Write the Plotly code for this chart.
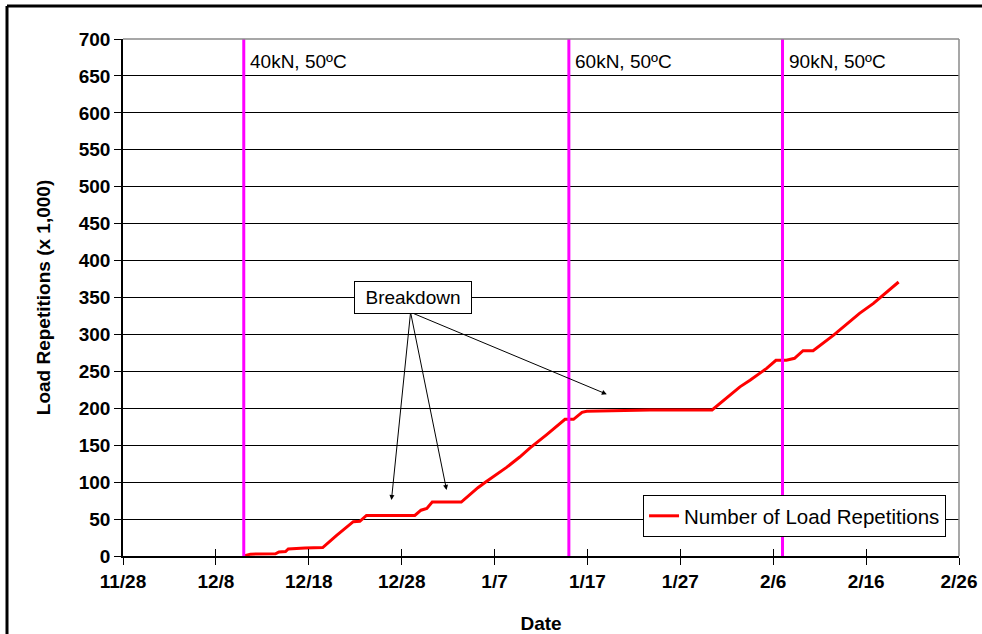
import plotly.graph_objects as go

# ---- data ----
dates = [
    "2003-12-11 00:00", "2003-12-11 17:00", "2003-12-14 10:00", "2003-12-14 19:00",
    "2003-12-15 12:00", "2003-12-15 19:00", "2003-12-17 14:00", "2003-12-19 12:00",
    "2003-12-21 00:00", "2003-12-22 07:00", "2003-12-22 19:00", "2003-12-23 12:00",
    "2003-12-24 05:00", "2003-12-29 10:00", "2003-12-30 02:00", "2003-12-30 17:00",
    "2003-12-31 07:00", "2004-01-03 10:00", "2004-01-05 05:00", "2004-01-06 02:00",
    "2004-01-08 07:00", "2004-01-09 17:00", "2004-01-10 19:00", "2004-01-12 14:00",
    "2004-01-14 14:00", "2004-01-15 12:00", "2004-01-16 10:00", "2004-01-16 22:00",
    "2004-01-18 12:00", "2004-01-23 17:00", "2004-01-30 10:00", "2004-02-02 10:00",
    "2004-02-03 12:00", "2004-02-05 07:00", "2004-02-06 07:00", "2004-02-07 10:00",
    "2004-02-08 07:00", "2004-02-09 05:00", "2004-02-10 07:00", "2004-02-12 12:00",
    "2004-02-15 07:00", "2004-02-16 19:00", "2004-02-19 12:00",
]
repetitions = [
    0, 2.5, 3, 5.5,
    6, 9.5, 11, 11.5,
    28, 41, 46.5, 47,
    55, 55, 62, 64.5,
    73, 73, 92.5, 100.6,
    120, 134, 146, 164,
    185, 185, 194.5, 196,
    196.5, 197.7, 197.7, 229,
    238, 254, 265, 265,
    267.7, 278, 278, 299,
    328.5, 342, 371,
]

load_change_dates = ["2003-12-11", "2004-01-15", "2004-02-07"]
load_change_labels = ["40kN, 50ºC", "60kN, 50ºC", "90kN, 50ºC"]

breakdown_targets_x = ["2003-12-26 21:36", "2004-01-01 20:00", "2004-01-19 02:00"]
breakdown_targets_y = [75.8, 89.4, 219]
breakdown_label_x = "2003-12-28 23:00"
breakdown_label_y = 330

x_range = ["2003-11-28", "2004-02-26"]
y_range = [0, 700]

FONT = "Liberation Sans, Arial, sans-serif"
FS = 19

fig = go.Figure()
fig.add_trace(go.Scatter(
    x=dates, y=repetitions, mode="lines",
    name="Number of Load Repetitions",
    line=dict(color="#FF0000", width=3),
))
# dummy trace on overlay x-axis for inside ticks
fig.add_trace(go.Scatter(x=[x_range[0]], y=[None], xaxis="x2", showlegend=False,
                         hoverinfo="skip"))

shapes = []
for d in load_change_dates:
    shapes.append(dict(type="line", xref="x", yref="y", x0=d, x1=d, y0=0, y1=700,
                       line=dict(color="#FF00FF", width=3), layer="above"))
# plot-area top and right border (gray)
shapes.append(dict(type="line", xref="paper", yref="paper", x0=0, x1=1, y0=1, y1=1,
                   line=dict(color="#8a8a8a", width=1.5), layer="above"))
shapes.append(dict(type="line", xref="paper", yref="paper", x0=1, x1=1, y0=0, y1=1,
                   line=dict(color="#8a8a8a", width=1.5), layer="above"))
# outer frame (top and left edges visible)
px_w, px_h = 836, 517
def px(xp):
    return (xp - 123) / px_w
def py(yp):
    return (556 - yp) / px_h
shapes.append(dict(type="line", xref="paper", yref="paper", x0=px(7), x1=px(990),
                   y0=py(6), y1=py(6), line=dict(color="black", width=3)))
shapes.append(dict(type="line", xref="paper", yref="paper", x0=px(7), x1=px(7),
                   y0=py(6), y1=py(640), line=dict(color="black", width=3)))

annotations = []
for d, t in zip(load_change_dates, load_change_labels):
    annotations.append(dict(x=d, y=669, xref="x", yref="y", text=t, showarrow=False,
                            xanchor="left", yanchor="middle", xshift=4,
                            font=dict(family=FONT, size=FS, color="black")))
for tx, ty in zip(breakdown_targets_x, breakdown_targets_y):
    annotations.append(dict(x=tx, y=ty, xref="x", yref="y",
                            ax=breakdown_label_x, ay=breakdown_label_y,
                            axref="x", ayref="y", text="", showarrow=True,
                            arrowhead=2, arrowsize=1, arrowwidth=1, arrowcolor="black"))
annotations.append(dict(x="2003-12-29 04:00", y=350, xref="x", yref="y",
                        text="Breakdown", showarrow=False, width=110, height=25,
                        font=dict(family=FONT, size=FS, color="black"),
                        bordercolor="black", borderwidth=1, borderpad=3,
                        bgcolor="white"))

fig.update_layout(
    width=982, height=634,
    margin=dict(l=123, r=23, t=39, b=78, autoexpand=False),
    paper_bgcolor="white", plot_bgcolor="white",
    font=dict(family=FONT, size=FS, color="black"),
    shapes=shapes, annotations=annotations,
    showlegend=True,
    legend=dict(x=0.9845, y=0.0368, xanchor="right", yanchor="bottom",
                bgcolor="white", bordercolor="black", borderwidth=1,
                font=dict(family=FONT, size=20.5, color="black")),
    xaxis=dict(type="date", range=x_range, tick0=x_range[0], dtick=10 * 86400000,
               tickformat="%-m/%-d", ticks="outside", ticklen=7, tickcolor="black",
               showline=True, linecolor="black", linewidth=1.5, showgrid=False,
               zeroline=False, automargin=False,
               tickfont=dict(family=FONT, size=FS, color="black", weight="bold"),
               title=dict(text="<b>Date</b>", standoff=26,
                          font=dict(family=FONT, size=FS, color="black"))),
    xaxis2=dict(type="date", range=x_range, tick0=x_range[0], dtick=10 * 86400000,
                overlaying="x", anchor="y", side="bottom", ticks="inside", ticklen=7,
                tickcolor="black", showticklabels=False, showgrid=False,
                showline=False, zeroline=False, automargin=False),
    yaxis=dict(range=y_range, dtick=50, ticks="outside", ticklen=7, tickcolor="black",
               showline=True, linecolor="black", linewidth=1.5,
               showgrid=True, gridcolor="black", gridwidth=1, zeroline=False,
               automargin=False,
               tickfont=dict(family=FONT, size=FS, color="black", weight="bold"),
               title=dict(text="<b>Load Repetitions (x 1,000)</b>", standoff=23,
                          font=dict(family=FONT, size=FS, color="black"))),
)

fig.write_html("out.html", config={"displayModeBar": False},
               post_script="document.body.style.margin='0';")
